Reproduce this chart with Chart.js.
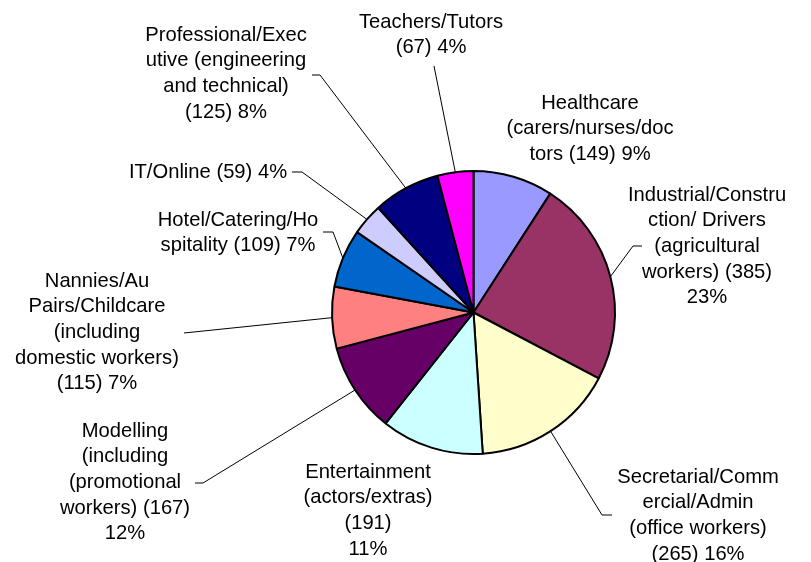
<!DOCTYPE html>
<html>
<head>
<meta charset="utf-8">
<title>Occupations</title>
<script src="https://cdn.jsdelivr.net/npm/chart.js@4/dist/chart.umd.min.js"></script>
<style>
  html, body { margin: 0; padding: 0; background: #fff; }
  #wrap { width: 811px; height: 562px; position: relative; }
</style>
</head>
<body>
<div id="wrap"><canvas id="occupations"></canvas></div>
<script>
var categories = [
  'Healthcare', 'Industrial/Construction/ Drivers', 'Secretarial/Commercial/Admin',
  'Entertainment', 'Modelling', 'Nannies/Au Pairs/Childcare', 'Hotel/Catering/Hospitality',
  'IT/Online', 'Professional/Executive', 'Teachers/Tutors'
];
var counts = [149, 385, 265, 191, 167, 115, 109, 59, 125, 67];
var percents = ['9%', '23%', '16%', '11%', '12%', '7%', '7%', '4%', '8%', '4%'];

// label text, wrapped as in the original
var labelLines = [
  ['Healthcare', '(carers/nurses/doc', 'tors (149) 9%'],
  ['Industrial/Constru', 'ction/ Drivers', '(agricultural', 'workers) (385)', '23%'],
  ['Secretarial/Comm', 'ercial/Admin', '(office workers)', '(265) 16%'],
  ['Entertainment', '(actors/extras)', '(191)', '11%'],
  ['Modelling', '(including', '(promotional', 'workers) (167)', '12%'],
  ['Nannies/Au', 'Pairs/Childcare', '(including', 'domestic workers)', '(115) 7%'],
  ['Hotel/Catering/Ho', 'spitality (109) 7%'],
  ['IT/Online (59) 4%'],
  ['Professional/Exec', 'utive (engineering', 'and technical)', '(125) 8%'],
  ['Teachers/Tutors', '(67) 4%']
];

var colors = ['#9999FF', '#993366', '#FFFFCC', '#CCFFFF', '#660066',
  '#FF8080', '#0066CC', '#CCCCFF', '#000080', '#FF00FF'];

// where each label sits and where its leader line bends
var labelPos = [
  {x: 590, y: 103},
  {x: 707, y: 195, elbow: [633, 246], tail: 642},
  {x: 698, y: 477, elbow: [602, 515], tail: 612},
  {x: 368, y: 472},
  {x: 125, y: 431, elbow: [203, 483], tail: 195},
  {x: 97, y: 281, elbow: [184, 333]},
  {x: 238, y: 220, elbow: [333, 232], tail: 323},
  {x: 208, y: 172, elbow: [302, 172], tail: 292},
  {x: 226, y: 35, elbow: [320, 75], tail: 312},
  {x: 431, y: 22, elbow: [434, 66]}
];

var Occupations = {

  lineHeight: 25.7,

  labelsPlugin: {
    id: 'sliceLabels',
    afterDraw: function (chart) {
      var ctx = chart.ctx,
        arcs = chart.getDatasetMeta(0).data;

      ctx.save();
      ctx.strokeStyle = '#000';
      ctx.lineWidth = 1;
      arcs.forEach(function (arc, i) {
        var p = labelPos[i];
        if (!p.elbow) return;
        var a = arc.getProps(['x', 'y', 'startAngle', 'endAngle', 'outerRadius'], true),
          mid = (a.startAngle + a.endAngle) / 2,
          px = a.x + Math.cos(mid) * a.outerRadius,
          py = a.y + Math.sin(mid) * a.outerRadius;
        ctx.beginPath();
        ctx.moveTo(px, py);
        ctx.lineTo(p.elbow[0], p.elbow[1]);
        if (p.tail !== undefined) ctx.lineTo(p.tail, p.elbow[1]);
        ctx.stroke();
      });

      ctx.fillStyle = '#000';
      ctx.font = '20.2px "Liberation Sans", Arial, sans-serif';
      ctx.textAlign = 'center';
      ctx.textBaseline = 'middle';
      labelLines.forEach(function (lines, i) {
        var p = labelPos[i];
        lines.forEach(function (line, j) {
          ctx.fillText(line, p.x, p.y + j * Occupations.lineHeight);
        });
      });
      ctx.restore();
    }
  },

  init: function () {
    var el = document.getElementById('occupations');

    new Chart(el, {
      type: 'pie',
      data: {
        labels: categories,
        datasets: [{
          data: counts,
          backgroundColor: colors,
          borderColor: '#000',
          borderWidth: 2
        }]
      },
      options: {
        responsive: false,
        animation: false,
        devicePixelRatio: 1,
        layout: {
          padding: {top: 170, bottom: 107, left: 331, right: 195}
        },
        plugins: {
          legend: {display: false},
          tooltip: {enabled: false}
        }
      },
      plugins: [this.labelsPlugin]
    });
  }
};

(function () {
  var el = document.getElementById('occupations');
  el.width = 811;
  el.height = 562;
  Occupations.init();
})();
</script>
</body>
</html>
